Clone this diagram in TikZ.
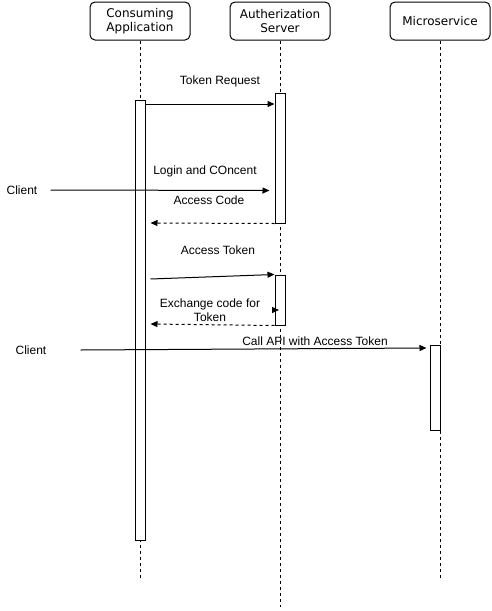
\documentclass[tikz,border=0pt]{standalone}
\usepackage{fontspec}
\setmainfont{Liberation Sans}
\newfontfamily\headfont{DejaVu Sans}
\usetikzlibrary{arrows.meta}

\tikzstyle{actor} = [draw, line width=1pt, rounded corners=5pt, minimum width=100pt, minimum height=38pt, inner sep=0pt, align=center, font=\headfont\fontsize{12}{14}\selectfont]
\tikzstyle{lifeline} = [draw, line width=1pt, dash pattern=on 3pt off 3pt]
\tikzstyle{bar} = [draw, line width=1pt, fill=white, minimum width=10pt, inner sep=0pt]
\tikzstyle{msg} = [draw, line width=1pt, -{Triangle[length=7pt,width=6pt]}]
\tikzstyle{reply} = [msg, dash pattern=on 3pt off 3pt]
\tikzstyle{msgtext} = [align=center, inner sep=0pt, font=\fontsize{12}{14}\selectfont]

\begin{document}
\begin{tikzpicture}[x=1pt, y=-1pt]
  \useasboundingbox (0,0) rectangle (491,611);

  % The participants and the ends of their lifelines
  \foreach \pos/\name/\txt/\len in {{(140,21)/ca/Consuming\\Application/578}, {(280,21)/as/Autherization\\Server/607}, {(440,21)/ms/Microservice/578}} {
    \node[actor] (\name) at \pos {\txt};
    \coordinate (\name-end) at (\name.south |- 0,\len);
    \path[lifeline] (\name) -- (\name-end);
  }

  % Activation bars
  \foreach \pos/\name/\h in {{(140,320)/ca-bar/440}, {(280,158)/as-bar1/130}, {(280,300)/as-bar2/50}, {(435,387.5)/ms-bar/85}}
    \node[bar, minimum height=\h pt] (\name) at \pos {};

  % Callers from outside
  \node[msgtext] (client1) at (22,190) {Client};
  \node[msgtext] (client2) at (31,350) {Client};

  % Message texts
  \foreach \pos/\name/\txt in {{(220,81.5)/t-req/Token Request}, {(205,171)/t-login/Login and COncent}, {(209,200.5)/t-code/Access Code}, {(218,250.5)/t-token/Access Token}, {(210,310)/t-exch/Exchange code for\\Token}, {(315,341)/t-api/Call API with Access Token}}
    \node[msgtext] (\name) at \pos {\txt};

  % The messages
  \path[msg] (ca-bar.east |- 0,104) -- (as-bar1.west |- 0,104);
  \path[msg] ([xshift=13pt]client1.east) -- ([xshift=-5pt]as-bar1.west |- 0,190.5);
  \path[reply] (as-bar1.south west) -- ([xshift=5pt]ca-bar.east |- 0,223);
  \path[msg] ([xshift=5pt]ca-bar.east |- 0,279) -- (as-bar2.north west);
  \coordinate (exch-tip) at (279,310);
  \path[msg] ([xshift=-6pt]exch-tip) -- (exch-tip);
  \path[reply] (as-bar2.south west) -- ([xshift=5pt]ca-bar.east |- 0,324);
  \path[msg] ([xshift=34pt]client2.east) -- ([xshift=-3pt]ms-bar.west |- 0,348);

\end{tikzpicture}
\end{document}
